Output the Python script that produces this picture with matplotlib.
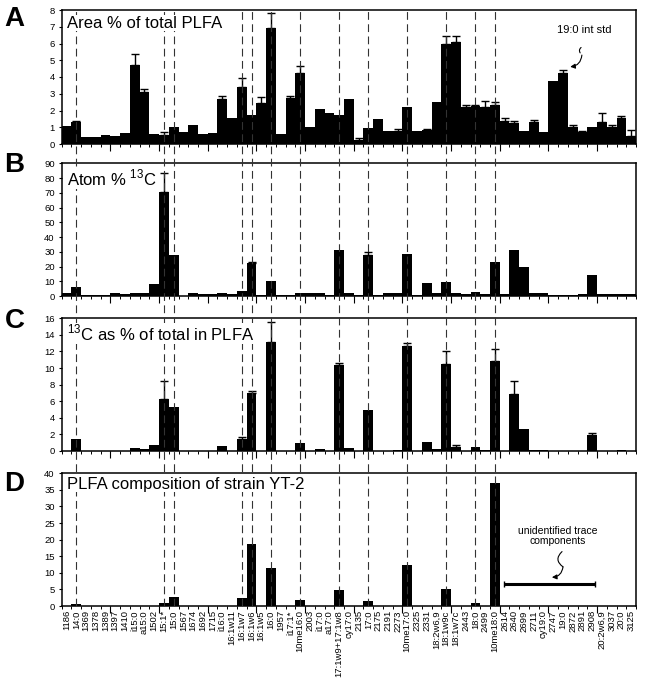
import numpy as np
import matplotlib.pyplot as plt

plt.rcParams['font.family'] = ['Liberation Sans', 'DejaVu Sans']

# peak labels, in elution order
labels = [
    "1186", "14:0", "1369", "1378", "1389", "1397", "1410", "i15:0", "a15:0", "1502",
    "15:1*", "15:0", "1567", "1674", "1692", "1715", "i16:0", "16:1w11", "16:1w7", "16:1w6",
    "16:1w5", "16:0", "1957", "i17:1*", "10me16:0", "2003", "i17:0", "a17:0", "17:1w9+17:1w8", "cy17:0",
    "2135", "17:0", "2175", "2191", "2273", "10me17:0", "2325", "2331", "18:2w6,9", "18:1w9c",
    "18:1w7c", "2443", "18:0", "2499", "10me18:0", "2614", "2640", "2699", "2711", "cy19:0",
    "2747", "19:0", "2872", "2891", "2908", "20:2w6,9", "3037", "20:0", "3125",
]

# A: area % of total PLFA
area = [
    1.1, 1.33, 0.42, 0.42, 0.55, 0.5, 0.65, 4.72, 3.12, 0.6,
    0.54, 1.0, 0.72, 1.15, 0.6, 0.66, 2.7, 1.53, 3.42, 1.71,
    2.43, 6.95, 0.62, 2.73, 4.26, 1.03, 2.09, 1.83, 1.73, 2.67,
    0.25, 0.98, 1.5, 0.78, 0.78, 2.23, 0.78, 0.82, 2.53, 5.95,
    6.07, 2.2, 2.27, 2.19, 2.35, 1.39, 1.23, 0.78, 1.29, 0.74,
    3.78, 4.22, 1.03, 0.74, 1.03, 1.33, 1.03, 1.53, 0.45,
]
area_err = [
    0, 0.05, 0, 0, 0, 0, 0, 0.63, 0.14, 0,
    0.2, 0, 0, 0, 0, 0, 0.17, 0, 0.5, 0,
    0.4, 0.85, 0, 0.14, 0.42, 0, 0, 0, 0, 0,
    0.08, 0, 0, 0, 0.1, 0, 0, 0.1, 0, 0.5,
    0.38, 0.1, 0.08, 0.4, 0.18, 0.18, 0.14, 0, 0.14, 0,
    0, 0.2, 0.08, 0.06, 0, 0.5, 0.08, 0.16, 0.4,
]

# B: atom % 13C
atom13c = [
    1.8, 6.3, 0.9, 0.9, 0.7, 1.8, 1.1, 1.8, 1.8, 8.1,
    70.8, 27.8, 0, 1.8, 1.4, 1.4, 2.2, 1.4, 3.2, 22.6,
    0.9, 10.2, 0.9, 0.9, 2.3, 1.8, 1.8, 0.5, 31.2, 1.8,
    0.9, 27.8, 0.5, 1.8, 1.8, 28.7, 0.9, 9.0, 1.8, 9.7,
    1.8, 1.4, 2.5, 1.4, 23.1, 1.4, 31.2, 19.7, 1.8, 2.0,
    0.9, 0.9, 0.9, 1.1, 14.0, 1.4, 1.4, 1.4, 1.4,
]
atom13c_err = [0] * 59
atom13c_err[10] = 12.9
atom13c_err[19] = 0.5
atom13c_err[31] = 1.8

# C: 13C as % of total in PLFA
c13_total = [
    0, 1.5, 0, 0, 0, 0, 0, 0.32, 0.24, 0.72,
    6.3, 5.3, 0, 0, 0, 0, 0.64, 0, 1.5, 7.0,
    0, 13.1, 0, 0, 0.92, 0, 0.24, 0, 10.4, 0.32,
    0, 5.0, 0, 0, 0.1, 12.7, 0, 1.1, 0.3, 10.5,
    0.48, 0, 0.52, 0.1, 10.9, 0, 6.9, 2.6, 0.12, 0.12,
    0, 0, 0, 0, 1.9, 0, 0, 0.08, 0,
]
c13_total_err = [
    0, 0, 0, 0, 0, 0, 0, 0, 0, 0,
    2.1, 0, 0, 0, 0, 0, 0, 0, 0.23, 0.27,
    0, 2.4, 0, 0, 0, 0, 0, 0, 0.25, 0,
    0, 0, 0, 0, 0, 0.3, 0, 0, 0, 1.5,
    0.24, 0, 0, 0, 1.4, 0, 1.5, 0, 0, 0,
    0, 0, 0, 0, 0.3, 0, 0, 0, 0,
]

# D: PLFA composition of strain YT-2
yt2 = [0.0] * 59
yt2_peaks = {"14:0": 0.6, "15:1*": 1.0, "15:0": 2.6, "16:1w7": 2.3, "16:1w6": 18.7,
             "16:0": 11.5, "10me16:0": 1.8, "17:1w9+17:1w8": 4.7, "17:0": 1.5,
             "10me17:0": 12.5, "18:1w9c": 5.0, "18:0": 1.0, "10me18:0": 37.2}
for k, v in yt2_peaks.items():
    yt2[labels.index(k)] = v

# peaks found in strain YT-2 (dashed guides)
marked = list(yt2_peaks.keys())

n = len(labels)
x = np.arange(n)

W, H = 647, 692
fig = plt.figure(figsize=(W / 100, H / 100), dpi=100)

left = 61.7 / W
width = (636 - 61.7) / W
# (top px, bottom px, ymax, step, values, errors, title, title y px, letter, letter y px)
panels = [
    (10, 144, 8, 1, area, area_err, "Area % of total PLFA", 23.3, "A", 19.3),
    (163.3, 296, 90, 10, atom13c, atom13c_err, r"Atom % $^{\mathregular{13}}$C", 178.3, "B", 165),
    (318.3, 451, 16, 2, c13_total, c13_total_err, r"$^{\mathregular{13}}$C as % of total in PLFA", 333.5, "C", 321),
    (473.3, 606, 40, 5, yt2, None, "PLFA composition of strain YT-2", 484, "D", 484),
]

axes = []
for top, bot, ymax, step, vals, err, title, ty, letter, ly in panels:
    ax = fig.add_axes([left, 1 - bot / H, width, (bot - top) / H])
    axes.append(ax)
    ax.bar(x, vals, width=1.0, color='black', linewidth=0)
    if err is not None:
        e = np.array(err, dtype=float)
        m = e > 0
        ax.errorbar(x[m], np.array(vals)[m], yerr=[np.zeros(m.sum()), e[m]],
                    fmt='none', ecolor='black', elinewidth=1.0, capsize=3, capthick=1.0)
    ax.set_xlim(-0.5, n - 0.5)
    ax.set_ylim(0, ymax)
    ax.set_yticks(np.arange(0, ymax + step / 2, step))
    ax.tick_params(axis='y', direction='out', length=2.5, width=0.8, pad=2.5, labelsize=6.8)
    ax.set_xticks(x)
    ax.set_xticks(np.arange(-0.5, n), minor=True)
    ax.tick_params(axis='x', which='major', length=0, pad=3)
    ax.tick_params(axis='x', which='minor', direction='out', length=1.8, width=0.7)
    ax.set_xticklabels([])
    # longer ticks every fifth peak
    ax.vlines(np.arange(4.5, n - 1, 5), -0.055, 0, transform=ax.get_xaxis_transform(),
              colors='black', lw=0.8, clip_on=False)
    for s in ax.spines.values():
        s.set_linewidth(1.1)
    fig.text(66.7 / W, 1 - ty / H, title, fontsize=12, va='center', ha='left',
             bbox=dict(facecolor='white', edgecolor='none', pad=0.5), zorder=5)
    fig.text(14.5 / W, 1 - ly / H, letter, fontsize=20, fontweight='bold',
             va='center', ha='center')

axD = axes[3]
axD.set_xticklabels(labels, rotation=90, va='top', ha='center', fontsize=6.8)

# dashed guides through all four panels
top_px, bot_px = 10, 606
ov = fig.add_axes([left, 1 - bot_px / H, width, (bot_px - top_px) / H])
ov.set_xlim(-0.5, n - 0.5)
ov.set_ylim(0, 1)
ov.axis('off')
ov.vlines([labels.index(k) for k in marked], 0, 1, colors='#333333',
          linestyles=(0, (7, 4)), lw=0.8)

# annotations
axA = axes[0]
axA.text(53.2, 6.8, "19:0 int std", fontsize=8, ha='center', va='center')
axA.annotate('', xy=(52.94, 5.31), xytext=(53.1, 5.85),
             arrowprops=dict(arrowstyle='-', connectionstyle='arc3,rad=0.7', lw=0.8))
axA.annotate('', xy=(51.74, 4.61), xytext=(52.94, 5.31),
             arrowprops=dict(arrowstyle='-|>', connectionstyle='arc3,rad=-0.4', lw=0.8,
                             mutation_scale=7, color='black', shrinkA=0, shrinkB=0))

axD.text(50.5, 21.1, "unidentified trace\ncomponents", fontsize=7.5, ha='center',
         va='center', linespacing=1.1)
axD.annotate('', xy=(51.0, 11.8), xytext=(50.9, 16.4),
             arrowprops=dict(arrowstyle='-', connectionstyle='arc3,rad=0.6', lw=0.8,
                             shrinkA=0, shrinkB=0))
axD.annotate('', xy=(49.86, 8.65), xytext=(51.0, 11.8),
             arrowprops=dict(arrowstyle='-|>', connectionstyle='arc3,rad=-0.4', lw=0.8,
                             mutation_scale=7, color='black', shrinkA=0, shrinkB=0))
trace_x = [labels.index("2614") - 0.1, labels.index("2908") + 0.3]
axD.plot(trace_x, [6.6, 6.6], color='black', lw=2.2, solid_capstyle='butt')
axD.plot(trace_x, [6.6, 6.6], color='black', lw=0, marker='|', markersize=4, mew=1)

fig.savefig("out.png", dpi=100)
